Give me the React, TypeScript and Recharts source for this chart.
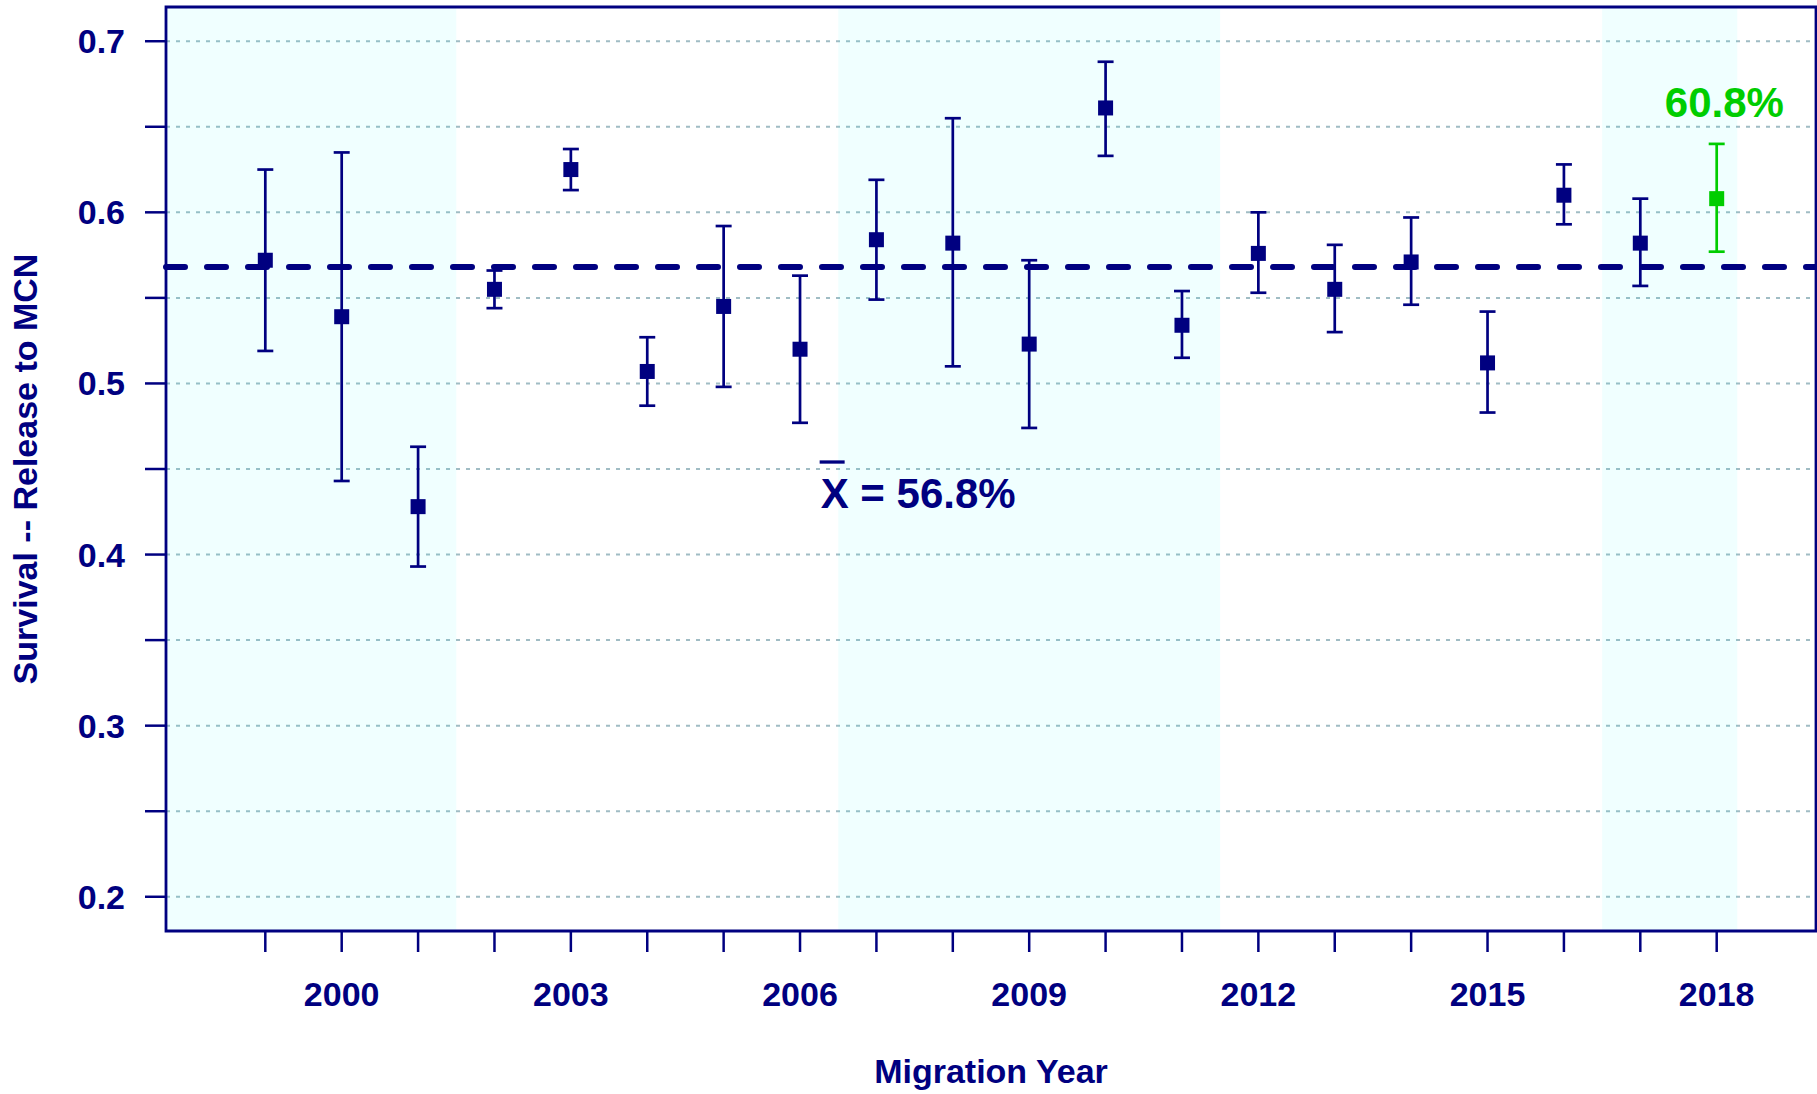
import React from "react";
import {
  ComposedChart,
  Scatter,
  XAxis,
  YAxis,
  ErrorBar,
  ReferenceArea,
  ReferenceLine,
  ReferenceDot,
  CartesianGrid,
  Label,
} from "recharts";

const NAVY = "#000080";
const GREEN = "#00cd00";
const FONT = "'Liberation Sans', Arial, Helvetica, sans-serif";

const years = [1999, 2000, 2001, 2002, 2003, 2004, 2005, 2006, 2007, 2008, 2009, 2010, 2011, 2012, 2013, 2014, 2015, 2016, 2017, 2018];
const survival = [0.572, 0.539, 0.428, 0.555, 0.625, 0.507, 0.545, 0.520, 0.584, 0.582, 0.523, 0.661, 0.534, 0.576, 0.555, 0.571, 0.512, 0.610, 0.582, 0.608];
const lower = [0.519, 0.443, 0.393, 0.544, 0.613, 0.487, 0.498, 0.477, 0.549, 0.510, 0.474, 0.633, 0.515, 0.553, 0.530, 0.546, 0.483, 0.593, 0.557, 0.577];
const upper = [0.625, 0.635, 0.463, 0.566, 0.637, 0.527, 0.592, 0.563, 0.619, 0.655, 0.572, 0.688, 0.554, 0.600, 0.581, 0.597, 0.542, 0.628, 0.608, 0.640];

const MEAN = 0.568;
const xTicks = years;
const xLabels = [2000, 2003, 2006, 2009, 2012, 2015, 2018];
const yTicks = [0.2, 0.25, 0.3, 0.35, 0.4, 0.45, 0.5, 0.55, 0.6, 0.65, 0.7];
const bandStarts = [1997.7, 2006.5, 2016.5];
const bandEnds = [2001.5, 2011.5, 2018.27];

const X_DOMAIN: [number, number] = [1997.7, 2019.3];
const Y_DOMAIN: [number, number] = [0.18, 0.72];

// annotation anchors (data units)
const MEAN_LABEL_AT = { x: 2006.27, y: 0.4272 };
const LAST_LABEL_AT = { x: 2018.1, y: 0.6559 };

const rows = years.map((year, i) => ({
  year,
  surv: survival[i],
  err: [survival[i] - lower[i], upper[i] - survival[i]],
}));
const pastRows = rows.slice(0, -1);
const lastRows = rows.slice(-1);

const square = (color: string) => (p: any) => (
  <rect x={p.cx - 7.5} y={p.cy - 7.5} width={15} height={15} fill={color} />
);

function XTick({ x, y, payload }: any) {
  const txt = xLabels.includes(payload.value) ? String(payload.value) : "";
  return (
    <text x={x} y={y + 54} textAnchor="middle" fill={NAVY} fontFamily={FONT} fontWeight="bold" fontSize={34}>
      {txt}
    </text>
  );
}

function YTick({ x, y, payload }: any) {
  const v = payload.value;
  const major = Math.abs(v * 10 - Math.round(v * 10)) < 1e-6;
  return (
    <text x={x} y={y + 12} textAnchor="end" fill={NAVY} fontFamily={FONT} fontWeight="bold" fontSize={34}>
      {major ? v.toFixed(1) : ""}
    </text>
  );
}

export default function App() {
  return (
    <div>
      <style>{`body{margin:0;background:#fff}`}</style>
      <ComposedChart width={1817} height={1094} margin={{ top: 7, right: 1, bottom: 0, left: 0 }}>
        <CartesianGrid vertical={false} stroke="#a0bcc4" strokeWidth={2} strokeDasharray="4 6" />
        {bandStarts.map((s, i) => (
          <ReferenceArea key={i} x1={s} x2={bandEnds[i]} fill="#00ffff" fillOpacity={0.059} stroke="none" />
        ))}
        <XAxis
          type="number"
          dataKey="year"
          domain={X_DOMAIN}
          ticks={xTicks}
          interval={0}
          allowDataOverflow
          height={163}
          axisLine={false}
          tickLine={{ stroke: NAVY, strokeWidth: 2.5 }}
          tickSize={21}
          tickMargin={0}
          tick={<XTick />}
        >
          <Label
            content={({ viewBox }: any) => (
              <text
                x={viewBox.x + viewBox.width / 2}
                y={viewBox.y + 152}
                textAnchor="middle"
                fill={NAVY}
                fontFamily={FONT}
                fontWeight="bold"
                fontSize={34}
              >
                Migration Year
              </text>
            )}
          />
        </XAxis>
        <YAxis
          type="number"
          dataKey="surv"
          domain={Y_DOMAIN}
          ticks={yTicks}
          interval={0}
          allowDataOverflow
          width={166}
          axisLine={false}
          tickLine={{ stroke: NAVY, strokeWidth: 2.5 }}
          tickSize={21}
          tickMargin={20}
          tick={<YTick />}
        >
          <Label
            content={({ viewBox }: any) => {
              const cx = viewBox.x + 37;
              const cy = viewBox.y + viewBox.height / 2;
              return (
                <text
                  x={cx}
                  y={cy}
                  transform={`rotate(-90 ${cx} ${cy})`}
                  textAnchor="middle"
                  fill={NAVY}
                  fontFamily={FONT}
                  fontWeight="bold"
                  fontSize={34}
                >
                  Survival -- Release to MCN
                </text>
              );
            }}
          />
        </YAxis>
        <ReferenceLine y={MEAN} stroke={NAVY} strokeWidth={6} strokeDasharray="19 22" strokeLinecap="round" />
        <ReferenceArea
          x1={X_DOMAIN[0]}
          x2={X_DOMAIN[1]}
          y1={Y_DOMAIN[0]}
          y2={Y_DOMAIN[1]}
          fill="none"
          stroke={NAVY}
          strokeWidth={2.8}
        />
        <ReferenceDot
          x={MEAN_LABEL_AT.x}
          y={MEAN_LABEL_AT.y}
          r={0}
          fill="none"
          stroke="none"
          label={({ viewBox }: any) => (
            <g>
              <line x1={viewBox.x - 1} x2={viewBox.x + 24} y1={viewBox.y - 46} y2={viewBox.y - 46} stroke={NAVY} strokeWidth={3.3} />
              <text x={viewBox.x} y={viewBox.y} fill={NAVY} fontFamily={FONT} fontWeight="bold" fontSize={42}>
                X = 56.8%
              </text>
            </g>
          )}
        />
        <ReferenceDot
          x={LAST_LABEL_AT.x}
          y={LAST_LABEL_AT.y}
          r={0}
          fill="none"
          stroke="none"
          label={({ viewBox }: any) => (
            <text x={viewBox.x} y={viewBox.y} textAnchor="middle" fill={GREEN} fontFamily={FONT} fontWeight="bold" fontSize={42}>
              60.8%
            </text>
          )}
        />
        <Scatter data={pastRows} fill={NAVY} shape={square(NAVY)} isAnimationActive={false}>
          <ErrorBar dataKey="err" direction="y" width={8} stroke={NAVY} strokeWidth={2.7} isAnimationActive={false} />
        </Scatter>
        <Scatter data={lastRows} fill={GREEN} shape={square(GREEN)} isAnimationActive={false}>
          <ErrorBar dataKey="err" direction="y" width={8} stroke={GREEN} strokeWidth={2.7} isAnimationActive={false} />
        </Scatter>
      </ComposedChart>
    </div>
  );
}
